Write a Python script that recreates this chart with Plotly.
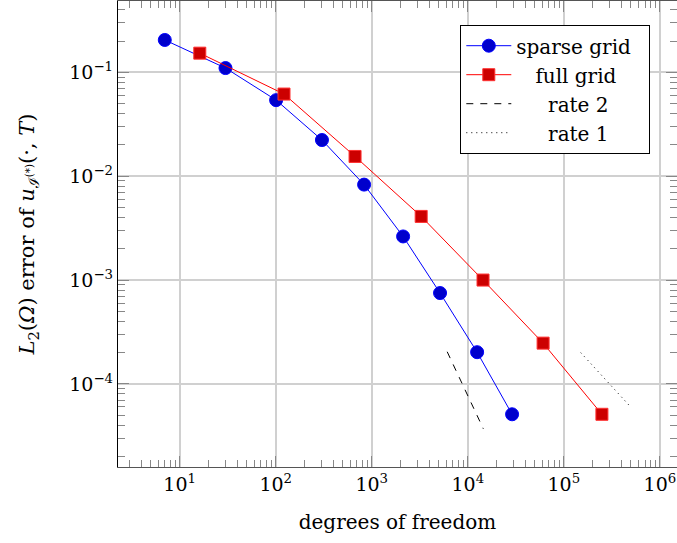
import plotly.graph_objects as go

# Convergence data: degrees of freedom vs. L2 error
sparse_dof = [7, 30, 101, 303, 832, 2120, 5140, 12500, 28900]
sparse_err = [0.205, 0.110, 0.054, 0.0223, 0.0083, 0.00263, 0.00075, 0.000202, 0.000051]

full_dof = [16.2, 122, 670, 3270, 14400, 60800, 249000]
full_err = [0.153, 0.0618, 0.0155, 0.0041, 0.00100, 0.000247, 0.000051]

# Reference slopes
rate2_dof = [6100, 14500]
rate2_err = [2.04e-4, 3.7e-5]
rate1_dof = [1.5e5, 4.8e5]
rate1_err = [2.0e-4, 6.2e-5]

x_tickvals = [1e1, 1e2, 1e3, 1e4, 1e5, 1e6]
x_ticktext = ["10<sup>1</sup>", "10<sup>2</sup>", "10<sup>3</sup>",
              "10<sup>4</sup>", "10<sup>5</sup>", "10<sup>6</sup>"]
y_tickvals = [1e-1, 1e-2, 1e-3, 1e-4]
y_ticktext = ["10<sup>\u22121</sup>", "10<sup>\u22122</sup>",
              "10<sup>\u22123</sup>", "10<sup>\u22124</sup>"]

# minor tick positions: 2..9 within each decade
x_minor = [m * 10.0 ** e for e in range(0, 7) for m in range(2, 10)]
y_minor = [m * 10.0 ** e for e in range(-5, 0) for m in range(2, 10)]

FONT = "DejaVu Serif"
NB = "\u00a0"

fig = go.Figure()
fig.add_trace(go.Scatter(
    x=sparse_dof, y=sparse_err, mode="lines+markers", name="sparse grid" + NB * 2,
    line=dict(color="#0000ff", width=1),
    marker=dict(symbol="circle", size=13, color="#0000cc",
                line=dict(color="#0000ff", width=1)),
))
fig.add_trace(go.Scatter(
    x=full_dof, y=full_err, mode="lines+markers", name=NB * 3 + "full grid",
    line=dict(color="#ff0000", width=1),
    marker=dict(symbol="square", size=12, color="#cc0000",
                line=dict(color="#ff3030", width=1)),
))
fig.add_trace(go.Scatter(
    x=rate2_dof, y=rate2_err, mode="lines", name=NB * 5 + "rate 2",
    line=dict(color="black", width=1, dash="7px,7px"),
))
fig.add_trace(go.Scatter(
    x=rate1_dof, y=rate1_err, mode="lines", name=NB * 5 + "rate 1",
    line=dict(color="black", width=1, dash="1px,4px"),
))

axis_common = dict(
    type="log",
    automargin=False,
    showgrid=True, gridcolor="#d0d0d0", gridwidth=1.5,
    zeroline=False,
    ticks="inside", ticklen=11, tickcolor="#888888", tickwidth=1,
    mirror="allticks", showline=True, linewidth=1.3,
    tickfont=dict(family=FONT, size=19, color="black"),
)

fig.update_xaxes(
    **axis_common,
    range=[0.358, 6.178],
    tickvals=x_tickvals, ticktext=x_ticktext,
    minor=dict(tickvals=x_minor, ticks="inside", ticklen=7,
               tickcolor="#888888", showgrid=False),
    linecolor="#555555",
    title=dict(text="degrees of freedom", font=dict(family=FONT, size=20, color="black"),
               standoff=21),
)
fig.update_yaxes(
    **axis_common,
    range=[-4.80, -0.313],
    tickvals=y_tickvals, ticktext=y_ticktext,
    minor=dict(tickvals=y_minor, ticks="inside", ticklen=7,
               tickcolor="#888888", showgrid=False),
    linecolor="black",
    title=dict(text="<i>L</i><sub>2</sub>(<i>\u03a9</i>) error of <i>u</i><sub>\u2110<sup>(*)</sup></sub>(\u00b7, <i>T</i>)",
               font=dict(family=FONT, size=21, color="black"), standoff=28),
)

fig.update_layout(
    width=677, height=543,
    margin=dict(l=118, r=0, t=1, b=76),
    plot_bgcolor="white", paper_bgcolor="white",
    font=dict(family=FONT, size=20, color="black"),
    showlegend=True,
    legend=dict(
        x=0.612, y=0.9485, xanchor="left", yanchor="top",
        bgcolor="white", bordercolor="black", borderwidth=1.2,
        font=dict(family=FONT, size=20, color="black"),
        itemwidth=45, tracegroupgap=0,
    ),
)

fig.write_html("out.html")
